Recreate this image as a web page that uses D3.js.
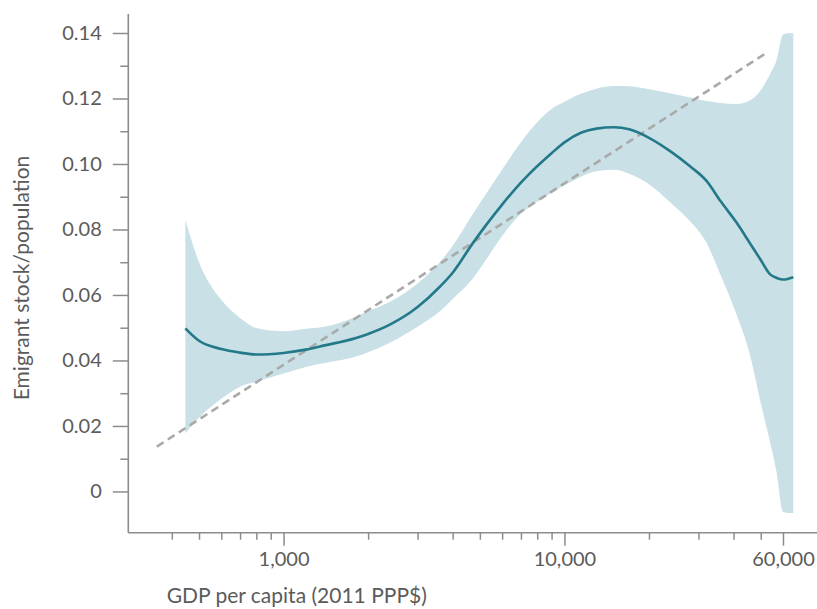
<!DOCTYPE html>
<html>
<head>
<meta charset="utf-8">
<script src="https://cdn.jsdelivr.net/npm/d3@7"></script>
<style>
  html, body { margin: 0; padding: 0; background: #fff; }
  svg { display: block; }
  text { font-family: Lato, "Open Sans", sans-serif; fill: #5b5b5b; }
</style>
</head>
<body>
<svg id="chart" width="817" height="609"></svg>
<script>
// ---- data ----
const gdp = [447, 500, 600, 700, 800, 1000, 1200, 1400, 1800, 2000, 2400, 3000, 3600, 4000, 4700, 5300, 6000, 7000, 7500, 9000, 10000, 11500, 13000, 15000, 17000, 20000, 24000, 28000, 32000, 36000, 41000, 46000, 50000, 54000, 57000, 60000, 63000, 65300];
const meanShare = [0.0498, 0.0460, 0.0435, 0.0424, 0.0418, 0.0423, 0.0433, 0.0446, 0.0468, 0.0481, 0.0510, 0.0563, 0.0625, 0.0668, 0.0756, 0.0817, 0.0876, 0.0943, 0.0970, 0.1033, 0.1066, 0.1096, 0.1108, 0.1112, 0.1106, 0.1080, 0.1037, 0.0993, 0.0949, 0.0886, 0.0821, 0.0755, 0.0707, 0.0663, 0.0652, 0.0647, 0.0650, 0.0654];
const upperShare = [0.0829, 0.0700, 0.0585, 0.0530, 0.0499, 0.0489, 0.0497, 0.0503, 0.0533, 0.0550, 0.0580, 0.0635, 0.0700, 0.0750, 0.0845, 0.0913, 0.0983, 0.1066, 0.1100, 0.1168, 0.1190, 0.1215, 0.1230, 0.1238, 0.1237, 0.1228, 0.1215, 0.1203, 0.1192, 0.1186, 0.1183, 0.1195, 0.1225, 0.1275, 0.1318, 0.1395, 0.1399, 0.1399];
const lowerShare = [0.0178, 0.0225, 0.0283, 0.0320, 0.0335, 0.0360, 0.0380, 0.0392, 0.0411, 0.0425, 0.0455, 0.0503, 0.0550, 0.0588, 0.0648, 0.0712, 0.0780, 0.0848, 0.0868, 0.0912, 0.0935, 0.0962, 0.0978, 0.0982, 0.0970, 0.0938, 0.0880, 0.0825, 0.0760, 0.0660, 0.0540, 0.0410, 0.0270, 0.0150, 0.0056, -0.0062, -0.0066, -0.0066];
const fitGdp = [354, 53200];
const fitShare = [0.0137, 0.1343];
const yMajorTicks = [0, 0.02, 0.04, 0.06, 0.08, 0.10, 0.12, 0.14];
const yMinorTicks = [0.01, 0.03, 0.05, 0.07, 0.09, 0.11, 0.13];
const xMajorTicks = [1000, 10000, 60000];
const xMajorLabels = ["1,000", "10,000", "60,000"];
const xMinorTicks = [400, 500, 600, 700, 800, 900, 2000, 3000, 4000, 5000, 6000, 7000, 8000, 9000, 20000, 30000, 40000, 50000];
const xTitle = "GDP per capita (2011 PPP$)";
const yTitle = "Emigrant stock/population";

// ---- layout ----
const plotLeft = 128.3, plotRight = 817, plotTop = 14, plotBottom = 532.7;
const svg = d3.select("#chart");

const x = d3.scaleLog().domain([280, 79300]).range([plotLeft, plotRight]);
const y = d3.scaleLinear().domain([-0.0126, 0.1458]).range([plotBottom, plotTop]);

const rows = gdp.map((g, i) => ({ g, m: meanShare[i], u: upperShare[i], l: lowerShare[i] }));

// band
svg.append("path")
  .datum(rows)
  .attr("fill", "#c8e0e6")
  .attr("d", d3.area()
    .x(d => x(d.g))
    .y0(d => y(d.l))
    .y1(d => y(d.u))
    .curve(d3.curveMonotoneX));

// fitted dashed line
svg.append("path")
  .datum(fitGdp.map((g, i) => ({ g, v: fitShare[i] })))
  .attr("fill", "none")
  .attr("stroke", "#a9a9a9")
  .attr("stroke-width", 2.6)
  .attr("stroke-dasharray", "8,5")
  .attr("d", d3.line().x(d => x(d.g)).y(d => y(d.v)));

// mean line
svg.append("path")
  .datum(rows)
  .attr("fill", "none")
  .attr("stroke", "#23798a")
  .attr("stroke-width", 2.6)
  .attr("d", d3.line().x(d => x(d.g)).y(d => y(d.m)).curve(d3.curveMonotoneX));

// axes
const axisColor = "#8c8c8c";
const gy = svg.append("g").attr("transform", `translate(${plotLeft},0)`);
gy.call(d3.axisLeft(y).tickValues(yMinorTicks).tickSize(8).tickFormat(""));
gy.select(".domain").remove();
const gyMaj = svg.append("g").attr("transform", `translate(${plotLeft},0)`);
gyMaj.call(d3.axisLeft(y).tickValues(yMajorTicks).tickSize(15.5).tickPadding(11)
  .tickFormat(d => d === 0 ? "0" : d3.format(".2f")(d)));
gyMaj.select(".domain").remove();

const gx = svg.append("g").attr("transform", `translate(0,${plotBottom})`);
gx.call(d3.axisBottom(x).tickValues(xMinorTicks).tickSize(7).tickFormat(""));
gx.select(".domain").remove();
const gxMaj = svg.append("g").attr("transform", `translate(0,${plotBottom})`);
gxMaj.call(d3.axisBottom(x).tickValues(xMajorTicks).tickSize(13).tickPadding(6)
  .tickFormat((d, i) => xMajorLabels[i]));
gxMaj.select(".domain").remove();

svg.selectAll(".tick line").attr("stroke", axisColor).attr("stroke-width", 1.5);
svg.selectAll(".tick text").style("font-size", "20px").style("font-family", "Lato, sans-serif").attr("fill", "#5b5b5b");

// axis lines (L shape)
svg.append("line").attr("x1", plotLeft).attr("x2", plotLeft).attr("y1", plotTop).attr("y2", plotBottom)
  .attr("stroke", axisColor).attr("stroke-width", 1.6);
svg.append("line").attr("x1", plotLeft).attr("x2", plotRight).attr("y1", plotBottom).attr("y2", plotBottom)
  .attr("stroke", axisColor).attr("stroke-width", 1.6);

// titles
svg.append("text")
  .attr("x", 166.7).attr("y", 603)
  .style("font-size", "21px")
  .text(xTitle);

svg.append("text")
  .attr("transform", "translate(29,278) rotate(-90)")
  .attr("text-anchor", "middle")
  .style("font-size", "21px")
  .text(yTitle);
</script>
</body>
</html>
